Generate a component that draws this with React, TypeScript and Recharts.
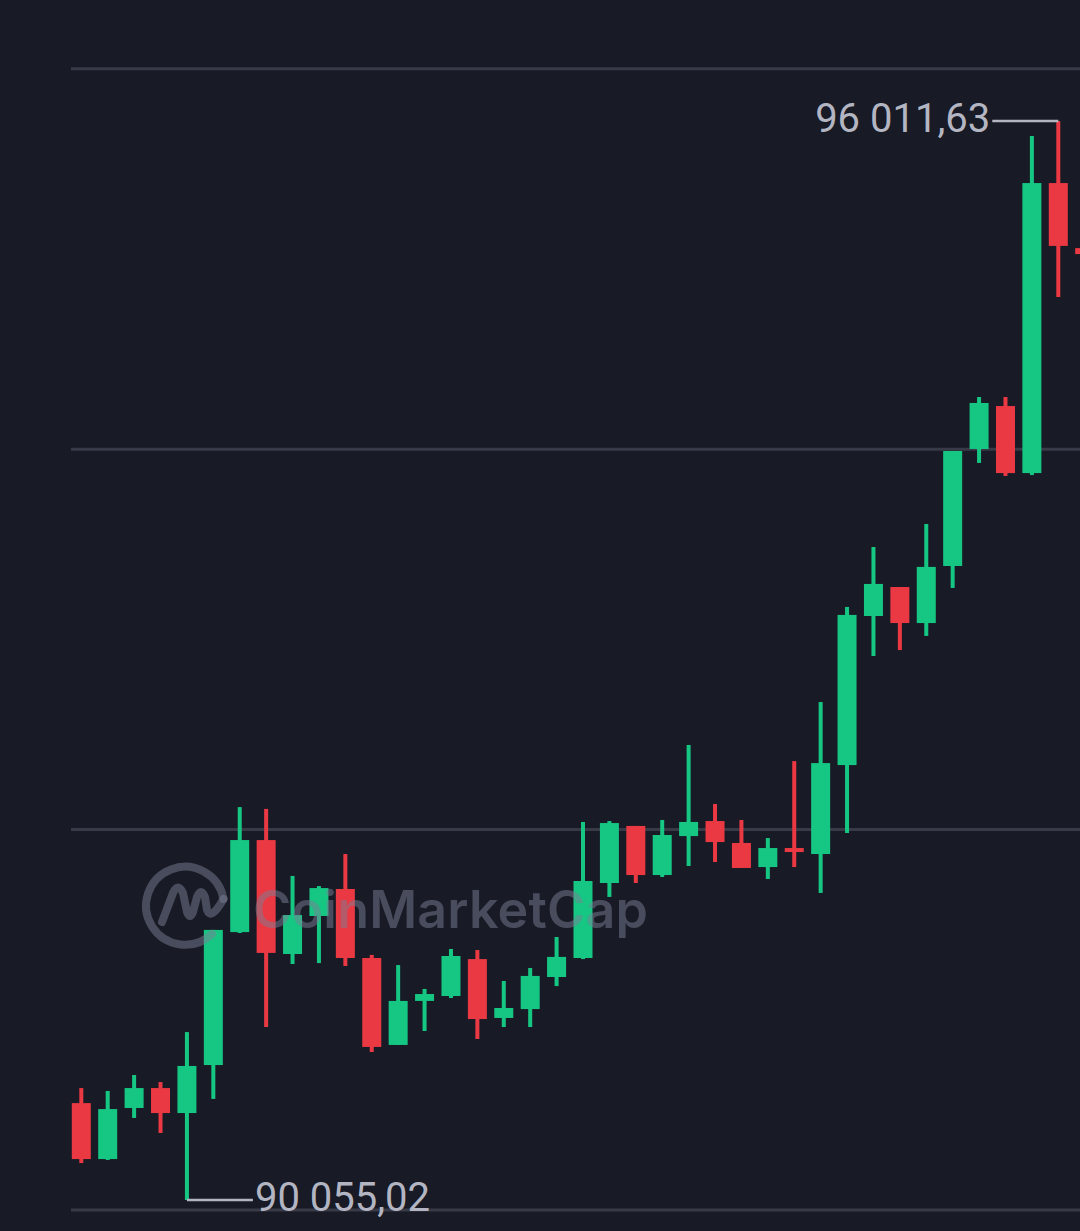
import React from "react";
import { ComposedChart, Bar, XAxis, YAxis, CartesianGrid } from "recharts";

// one entry per candle, oldest first
const slots = [
    1, 2, 3, 4, 5, 6, 7, 8, 9, 10, 11, 12, 13, 14, 15, 16, 17, 18, 19, 20,
    21, 22, 23, 24, 25, 26, 27, 28, 29, 30, 31, 32, 33, 34, 35, 36, 37, 38, 39,
];
const opens = [
    90590, 90281, 90563, 90673, 90535, 90800, 91534, 92042, 91413, 91623,
    91772, 91391, 90911, 91154, 91181, 91385, 91060, 91109, 91286, 91391,
    91805, 92120, 91849, 92064, 92147, 92026, 91893, 91998, 91965, 92456,
    93279, 93439, 93240, 93555, 94201, 94438, 94068, 95669, 95310,
];
const highs = [
    90673, 90657, 90745, 90706, 90982, 91546, 92224, 92214, 91844, 91788,
    91965, 91408, 91352, 91220, 91441, 91435, 91264, 91336, 91507, 92142,
    92147, 92120, 92153, 92567, 92241, 92153, 92053, 92478, 92804, 93329,
    93660, 93439, 93787, 94190, 94488, 94488, 95929, 96011.63, 95316,
];
const lows = [
    90259, 90276, 90508, 90425, 90055.02, 90613, 91529, 91010, 91358, 91363,
    91347, 90872, 90911, 90988, 91170, 90944, 91010, 91010, 91236, 91385,
    91728, 91805, 91838, 91899, 91921, 91888, 91827, 91893, 91750, 92081,
    93058, 93091, 93169, 93434, 94124, 94052, 94057, 95040, 95266,
];
const closes = [
    90281, 90557, 90673, 90535, 90795, 91546, 92042, 91419, 91628, 91777,
    91391, 90900, 91154, 91192, 91402, 91054, 91115, 91292, 91397, 91816,
    92136, 91849, 92070, 92142, 92031, 91888, 91998, 91982, 92467, 93285,
    93456, 93240, 93550, 94190, 94455, 94068, 95669, 95322, 95277,
];
const gridLevels = [90000, 92100, 94200, 96300];
const priceDomain = [89883.89, 96679.61];

const UP = "#16c784";
const DOWN = "#ea3943";
const LABEL = "#b3b6c2";
const BG = "#181a25";
const MARK = "rgba(122,125,148,0.5)";

const data = slots.map((s, i) => ({
    slot: s,
    open: opens[i],
    high: highs[i],
    low: lows[i],
    close: closes[i],
}));

const maxHigh = Math.max(...highs);
const minLow = Math.min(...lows);

function fmtPrice(v: number): string {
    const [int, dec] = v.toFixed(2).split(".");
    return int.replace(/\B(?=(\d{3})+(?!\d))/g, " ") + "," + dec;
}

function Candle(props: any) {
    const { x, y, width, height, payload } = props;
    if (!payload) return null;
    const top = Math.min(y, y + height);
    const bot = Math.max(y, y + height);
    const { open, high, low, close } = payload;
    const span = high - low || 1;
    const toY = (v: number) => top + ((high - v) / span) * (bot - top);
    const cx = x + width / 2;
    const color = close >= open ? UP : DOWN;
    const bTop = toY(Math.max(open, close));
    const bBot = toY(Math.min(open, close));
    return (
        <g>
            <rect x={cx - 2} y={top} width={4} height={bot - top} fill={color} />
            <rect x={cx - width / 2} y={bTop} width={width} height={Math.max(bBot - bTop, 4)} fill={color} />
            {high === maxHigh && (
                <g>
                    <line x1={cx - 66} x2={cx} y1={top} y2={top} stroke={LABEL} strokeWidth={2.5} />
                    <text x={cx - 68} y={top + 11} textAnchor="end" fontFamily="Roboto" fontSize={40} fill={LABEL}>
                        {fmtPrice(high)}
                    </text>
                </g>
            )}
            {low === minLow && (
                <g>
                    <line x1={cx} x2={cx + 66} y1={bot} y2={bot} stroke={LABEL} strokeWidth={2.5} />
                    <text x={cx + 68} y={bot + 11} textAnchor="start" fontFamily="Roboto" fontSize={40} fill={LABEL}>
                        {fmtPrice(low)}
                    </text>
                </g>
            )}
        </g>
    );
}

// semi-transparent logo drawn over the candles, like the original
function Watermark() {
    return (
        <svg width={1080} height={1231} style={{ position: "absolute", left: 0, top: 0, pointerEvents: "none" }}>
            <g fill="none" stroke={MARK} strokeWidth={8} strokeLinecap="round" strokeLinejoin="round">
                <path d="M 223.5 899 A 39 39 0 1 0 212 934" />
                <path d="M 162 922 L 173 893 Q 178 882 183 893 L 187 912 Q 190 920 193 912 L 197 897 Q 201 887 205 897 L 207 910 Q 211 921 223.5 899" />
            </g>
            <text x={253} y={928} fontFamily="Inter" fontWeight={600} fontSize={52} fill={MARK} textLength={395}>
                CoinMarketCap
            </text>
        </svg>
    );
}

export default function App() {
    return (
        <div style={{ position: "absolute", left: 0, top: 0, width: 1080, height: 1231, overflow: "hidden", background: BG }}>
            <div style={{ position: "absolute", left: 0, top: 0 }}>
                <ComposedChart
                    width={1100}
                    height={1231}
                    data={data}
                    margin={{ top: 0, right: 2.4, bottom: 0, left: 67.8 }}
                    barCategoryGap={0}
                >
                    <CartesianGrid
                        vertical={false}
                        horizontalValues={gridLevels}
                        x={71}
                        width={1029}
                        stroke="#383a48"
                        strokeWidth={3}
                    />
                    <XAxis dataKey="slot" hide />
                    <YAxis hide type="number" domain={priceDomain} allowDataOverflow />
                    <Bar
                        dataKey={(d: any) => [d.low, d.high]}
                        barSize={19}
                        shape={(p: any) => <Candle {...p} />}
                        isAnimationActive={false}
                    />
                </ComposedChart>
            </div>
            <Watermark />
        </div>
    );
}
